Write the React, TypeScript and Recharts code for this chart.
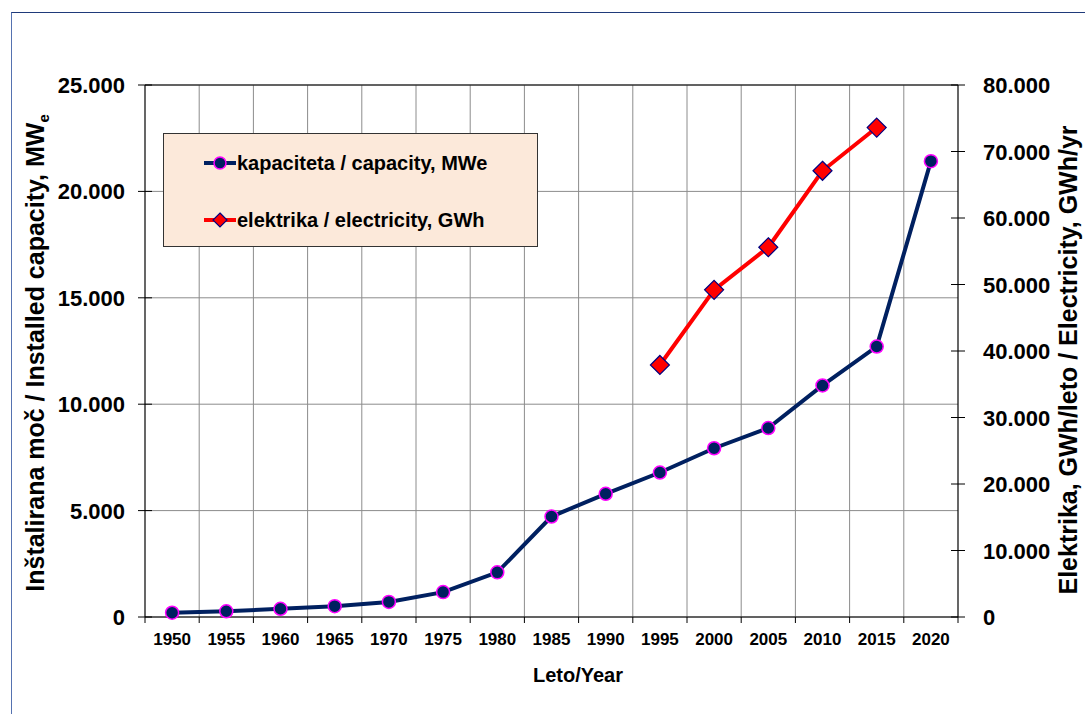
import React from 'react';
import { LineChart, Line, XAxis, YAxis, CartesianGrid, Legend, ReferenceLine } from 'recharts';

const years = ['1950', '1955', '1960', '1965', '1970', '1975', '1980', '1985', '1990', '1995', '2000', '2005', '2010', '2015', '2020'];
const capacityMWe = [200, 270, 385, 510, 710, 1170, 2100, 4720, 5790, 6790, 7930, 8880, 10880, 12710, 21420];
const electricityGWh: (number | null)[] = [null, null, null, null, null, null, null, null, null, 37900, 49200, 55600, 67100, 73600, null];
const leftTicks = [0, 5000, 10000, 15000, 20000, 25000];
const rightTicks = [0, 10000, 20000, 30000, 40000, 50000, 60000, 70000, 80000];
const seriesOrder = ['capacity', 'electricity'];

const data = years.map((y, i) => ({ year: y, capacity: capacityMWe[i], electricity: electricityGWh[i] }));

const W = 1085;
const H = 714;
const PLOT_LEFT = 145;
const PLOT_RIGHT = 958;
const PLOT_TOP = 85;
const PLOT_BOTTOM = 617;
const BAND = (PLOT_RIGHT - PLOT_LEFT) / years.length;
const FONT = 'Arial, "Liberation Sans", Helvetica, sans-serif';
const NAVY = '#002060';

const fmt = (v: number) => (v === 0 ? '0' : v.toLocaleString('de-DE'));

const XTick = (props: any) => {
  const { x, y, payload, index } = props;
  const isLast = index === years.length - 1;
  return (
    <g>
      <line x1={x - BAND / 2} y1={y} x2={x - BAND / 2} y2={y + 6} stroke="#000" strokeWidth={1} />
      {isLast && <line x1={x + BAND / 2} y1={y} x2={x + BAND / 2} y2={y + 6} stroke="#000" strokeWidth={1} />}
      <text x={x} y={y + 28} textAnchor="middle" fontFamily={FONT} fontWeight="bold" fontSize={17} fill="#000">
        {payload.value}
      </text>
    </g>
  );
};

const LeftTick = (props: any) => {
  const { x, y, payload } = props;
  return (
    <g>
      <line x1={x - 7} y1={y} x2={x + 7} y2={y} stroke="#000" strokeWidth={1} />
      <text x={x - 20} y={y + 8} textAnchor="end" fontFamily={FONT} fontWeight="bold" fontSize={22} fill="#000">
        {fmt(payload.value)}
      </text>
    </g>
  );
};

const RightTick = (props: any) => {
  const { x, y, payload } = props;
  return (
    <g>
      <line x1={x - 7} y1={y} x2={x + 7} y2={y} stroke="#000" strokeWidth={1} />
      <text x={x + 25} y={y + 8} textAnchor="start" fontFamily={FONT} fontWeight="bold" fontSize={22} fill="#000">
        {fmt(payload.value)}
      </text>
    </g>
  );
};

const CapDot = (props: any) => {
  const { cx, cy, value } = props;
  if (value == null || cx == null || cy == null) return <g />;
  return <circle cx={cx} cy={cy} r={6.5} fill={NAVY} stroke="#FF00FF" strokeWidth={1.5} />;
};

const ElecDot = (props: any) => {
  const { cx, cy, value } = props;
  if (value == null || cx == null || cy == null) return <g />;
  const s = 9.5;
  return (
    <path
      d={`M${cx},${cy - s} L${cx + s},${cy} L${cx},${cy + s} L${cx - s},${cy} Z`}
      fill="#FF0000"
      stroke="#000080"
      strokeWidth={1.2}
    />
  );
};

const LegendContent = (props: any) => {
  const payload = [...(props.payload || [])].sort(
    (a: any, b: any) => seriesOrder.indexOf(a.dataKey) - seriesOrder.indexOf(b.dataKey)
  );
  return (
    <div
      style={{
        width: 375,
        height: 114,
        boxSizing: 'border-box',
        background: '#FCE9DA',
        border: '1px solid #333',
        paddingTop: 15,
        paddingLeft: 39,
      }}
    >
      {payload.map((p: any, i: number) => (
        <div key={i} style={{ display: 'flex', alignItems: 'center', height: 28, marginBottom: i === 0 ? 29 : 0 }}>
          <svg width={34} height={20} style={{ display: 'block' }}>
            <line x1={1} y1={10} x2={33} y2={10} stroke={p.color} strokeWidth={4} />
            {p.dataKey === 'capacity' ? (
              <circle cx={17} cy={10} r={6} fill={NAVY} stroke="#FF00FF" strokeWidth={1.5} />
            ) : (
              <path d="M17,3 L24,10 L17,17 L10,10 Z" fill="#FF0000" stroke="#000080" strokeWidth={1.2} />
            )}
          </svg>
          <span style={{ fontFamily: FONT, fontWeight: 'bold', fontSize: 20, color: '#000', whiteSpace: 'nowrap' }}>
            {p.value}
          </span>
        </div>
      ))}
    </div>
  );
};

const verticalGen = ({ offset }: any) => {
  const left = offset?.left ?? PLOT_LEFT;
  const width = offset?.width ?? PLOT_RIGHT - PLOT_LEFT;
  const n = years.length;
  const arr: number[] = [];
  for (let i = 1; i < n; i++) arr.push(left + (width * i) / n);
  return arr;
};

export default function App() {
  return (
    <div style={{ position: 'fixed', left: 0, top: 0, width: W, height: H, overflow: 'hidden', background: '#fff' }}>
      <div
        style={{
          position: 'absolute',
          left: 11,
          top: 12,
          width: W,
          height: H,
          borderTop: '1.5px solid #1F3A7A',
          borderLeft: '1.5px solid #5572B0',
        }}
      />
      <div style={{ position: 'absolute', left: 0, top: 0 }}>
        <LineChart
          width={W}
          height={H}
          data={data}
          margin={{ top: PLOT_TOP, right: 0, left: 0, bottom: 0 }}
        >
          <CartesianGrid
            yAxisId="left"
            stroke="#8c8c8c"
            strokeWidth={1}
            verticalCoordinatesGenerator={verticalGen}
          />
          <XAxis
            dataKey="year"
            scale="band"
            height={H - PLOT_BOTTOM}
            tickSize={0}
            tickMargin={0}
            tick={<XTick />}
            interval={0}
            axisLine={{ stroke: '#000', strokeWidth: 1.2 }}
            tickLine={false}
            label={{
              content: () => (
                <text x={578} y={682} textAnchor="middle" fontFamily={FONT} fontWeight="bold" fontSize={20} fill="#000">
                  Leto/Year
                </text>
              ),
            }}
          />
          <YAxis
            yAxisId="left"
            width={PLOT_LEFT}
            domain={[0, 25000]}
            ticks={leftTicks}
            tickSize={0}
            tickMargin={0}
            tick={<LeftTick />}
            tickLine={false}
            axisLine={{ stroke: '#000', strokeWidth: 1.2 }}
            label={{
              content: () => (
                <text
                  transform="translate(44, 353) rotate(-90)"
                  textAnchor="middle"
                  fontFamily={FONT}
                  fontWeight="bold"
                  fontSize={25}
                  fill="#000"
                >
                  Inštalirana moč / Installed capacity, MW
                  <tspan fontSize={15} dy={5}>e</tspan>
                </text>
              ),
            }}
          />
          <YAxis
            yAxisId="right"
            orientation="right"
            width={W - PLOT_RIGHT}
            domain={[0, 80000]}
            ticks={rightTicks}
            tickSize={0}
            tickMargin={0}
            tick={<RightTick />}
            tickLine={false}
            axisLine={{ stroke: '#000', strokeWidth: 1.2 }}
            label={{
              content: () => (
                <text
                  transform="translate(1077, 360) rotate(-90)"
                  textAnchor="middle"
                  fontFamily={FONT}
                  fontWeight="bold"
                  fontSize={25}
                  fill="#000"
                >
                  Elektrika, GWh/leto / Electricity, GWh/yr
                </text>
              ),
            }}
          />
          <ReferenceLine yAxisId="left" y={25000} stroke="#000" strokeWidth={1.2} />
          <Legend
            layout="vertical"
            verticalAlign="middle"
            align="center"
            content={<LegendContent />}
            wrapperStyle={{ position: 'absolute', left: 163, top: 133, width: 375, height: 114 }}
          />
          <Line
            yAxisId="left"
            type="linear"
            dataKey="capacity"
            name="kapaciteta / capacity, MWe"
            stroke={NAVY}
            strokeWidth={4}
            dot={<CapDot />}
            activeDot={false}
            isAnimationActive={false}
          />
          <Line
            yAxisId="right"
            type="linear"
            dataKey="electricity"
            name="elektrika / electricity, GWh"
            stroke="#FF0000"
            strokeWidth={4}
            dot={<ElecDot />}
            activeDot={false}
            connectNulls={false}
            isAnimationActive={false}
          />
        </LineChart>
      </div>
    </div>
  );
}
